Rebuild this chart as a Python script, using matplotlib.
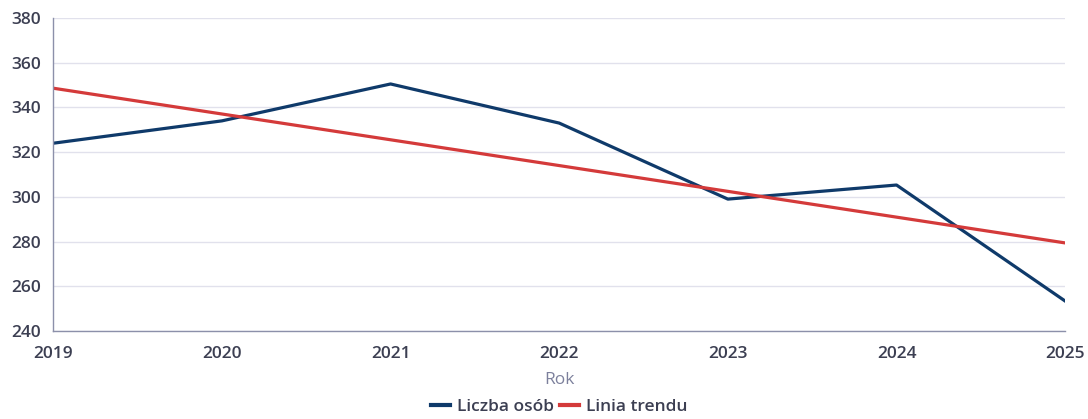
"""
Liczba osób w latach 2019-2025 z linią trendu
"""
import matplotlib.pyplot as plt

years = [2019, 2020, 2021, 2022, 2023, 2024, 2025]
people = [324, 334, 350.5, 333, 299, 305.3, 253.4]
trend_years = [2019, 2025]
trend_values = [348.6, 279.4]
y_ticks = [240, 260, 280, 300, 320, 340, 360, 380]

plt.rcParams['font.family'] = ['Open Sans', 'DejaVu Sans']

fig = plt.figure(figsize=(10.88, 4.19), dpi=100)
ax = fig.add_axes([0.049, 0.21, 0.930, 0.747])

ax.plot(years, people, color='#0f3a6a', linewidth=2.3, label='Liczba osób')
ax.plot(trend_years, trend_values, color='#d43a3a', linewidth=2.3, label='Linia trendu')

ax.set_xlim(2019, 2025)
ax.set_ylim(240, 380)
ax.set_yticks(y_ticks)
ax.set_xticks(years)
ax.grid(axis='y', color='#e1e1ec', linewidth=1)
ax.set_axisbelow(True)

for side in ['top', 'right']:
    ax.spines[side].set_visible(False)
for side in ['left', 'bottom']:
    ax.spines[side].set_color('#8c90aa')
    ax.spines[side].set_linewidth(1)

ax.tick_params(length=0, labelsize=12.5, labelcolor='#3c3f52')
ax.tick_params(axis='y', pad=9)
ax.tick_params(axis='x', pad=11)
for lbl in ax.get_xticklabels() + ax.get_yticklabels():
    lbl.set_fontweight('semibold')
ax.set_xlabel('Rok', fontsize=12.5, color='#7c809c', labelpad=7)

leg = ax.legend(loc='lower center', bbox_to_anchor=(0.5, -0.298), ncol=2, frameon=False,
                fontsize=12.5, labelcolor='#3c3f52', handlelength=1.1, handletextpad=0.4,
                columnspacing=0.3, borderpad=0.05)
for t in leg.get_texts():
    t.set_fontweight('semibold')
for h in leg.get_lines():
    h.set_linewidth(3)

plt.savefig('out.png', dpi=100)
